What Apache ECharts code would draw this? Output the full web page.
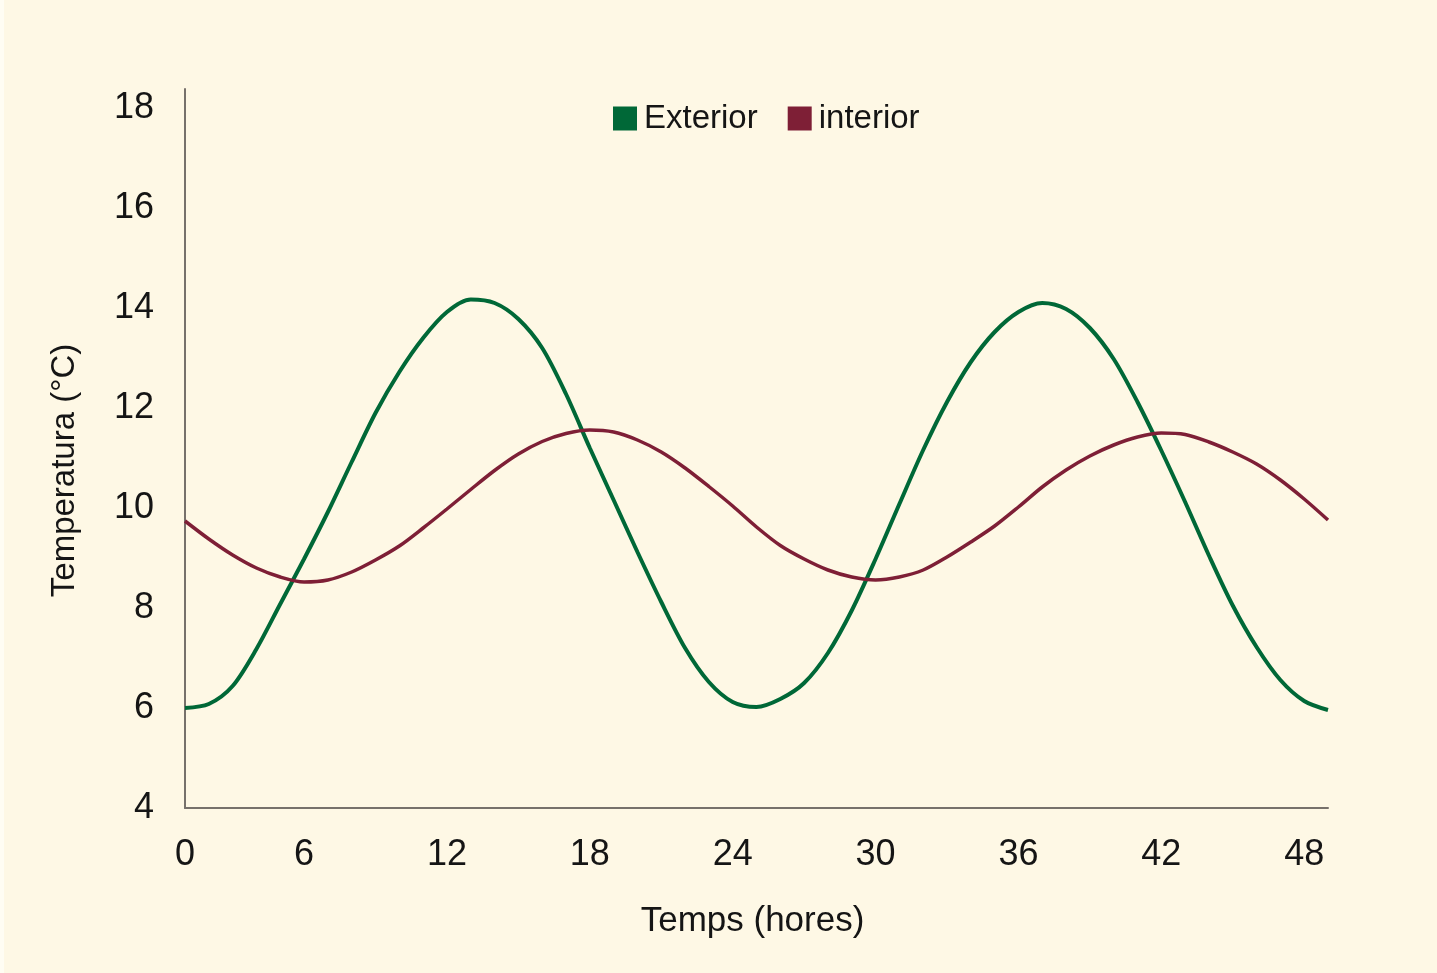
<!DOCTYPE html>
<html>
<head>
<meta charset="utf-8">
<title>Temperatura exterior i interior</title>
<script src="https://cdn.jsdelivr.net/npm/echarts@6/dist/echarts.min.js"></script>
<style>
    html, body { margin: 0; padding: 0; background: #fffdf3; }
    #chart { position: absolute; left: 4px; top: 0; width: 1433px; height: 973px; background: #fef8e5; }
</style>
</head>
<body>
<div id="chart"></div>
<script>
// hores en l'eix (cada hora) i graus llegits del gràfic original
var hours = [1, 2, 3, 4, 5, 6, 7, 8, 9, 10, 11, 12, 13, 14, 15, 16, 17, 18, 19, 20, 21, 22, 23, 24, 25,
    26, 27, 28, 29, 30, 31, 32, 33, 34, 35, 36, 37, 38, 39, 40, 41, 42, 43, 44, 45, 46, 47, 48, 49];
var exterior = [6.00, 6.08, 6.44, 7.18, 8.08, 8.98, 9.92, 10.92, 11.90, 12.72, 13.40, 13.92, 14.17,
    14.10, 13.78, 13.20, 12.28, 11.20, 10.16, 9.12, 8.12, 7.20, 6.52, 6.12, 6.02,
    6.18, 6.50, 7.10, 7.95, 8.98, 10.08, 11.16, 12.12, 12.92, 13.52, 13.92, 14.10,
    13.98, 13.60, 12.98, 12.12, 11.15, 10.12, 9.05, 8.05, 7.22, 6.56, 6.14, 5.96];
var interior = [9.74, 9.38, 9.06, 8.80, 8.62, 8.52, 8.56, 8.72, 8.96, 9.24, 9.60, 9.98, 10.37,
    10.75, 11.08, 11.33, 11.49, 11.56, 11.52, 11.36, 11.12, 10.80, 10.43, 10.04, 9.62,
    9.25, 8.98, 8.76, 8.62, 8.56, 8.62, 8.76, 9.02, 9.32, 9.64, 10.02, 10.42,
    10.76, 11.04, 11.26, 11.42, 11.50, 11.47, 11.32, 11.12, 10.88, 10.56, 10.18, 9.76];
var xTickValues = [1, 6, 12, 18, 24, 30, 36, 42, 48];
var xTickLabels = ['0', '6', '12', '18', '24', '30', '36', '42', '48'];

var FONT = 'Liberation Sans';
var TEXT = '#151515';
var AXIS = '#77716b';

function pairs(ys) {
    return hours.map(function (h, i) { return [h, ys[i]]; });
}

var chart = echarts.init(document.getElementById('chart'));
chart.setOption({
    backgroundColor: '#fef8e5',
    animation: false,
    textStyle: { fontFamily: FONT, color: TEXT },
    legend: {
        left: 604,
        top: 97,
        itemWidth: 24,
        itemHeight: 24,
        itemGap: 30,
        icon: 'rect',
        textStyle: { fontSize: 33, color: TEXT, fontFamily: FONT, padding: [0, 0, 0, 2] },
        data: ['Exterior', 'interior']
    },
    grid: { left: 181, right: 109, top: 89, bottom: 165 },
    xAxis: {
        type: 'value',
        min: 1,
        max: 49,
        name: 'Temps (hores)',
        nameLocation: 'middle',
        nameGap: 96,
        nameTextStyle: { fontSize: 35, color: TEXT, fontFamily: FONT, padding: [0, 8, 0, 0] },
        axisLine: { show: true, lineStyle: { color: AXIS, width: 2 } },
        axisTick: { show: false },
        splitLine: { show: false },
        axisLabel: {
            customValues: xTickValues,
            margin: 29,
            fontSize: 36,
            color: TEXT,
            fontFamily: FONT,
            formatter: function (v) {
                var i = xTickValues.indexOf(v);
                return i >= 0 ? xTickLabels[i] : '';
            }
        }
    },
    yAxis: {
        type: 'value',
        min: 4,
        max: 18.38,
        interval: 2,
        name: 'Temperatura (°C)',
        nameLocation: 'middle',
        nameGap: 104,
        nameTextStyle: { fontSize: 33, color: TEXT, fontFamily: FONT, padding: [0, 44, 0, 0] },
        axisLine: { show: true, lineStyle: { color: AXIS, width: 2 } },
        axisTick: { show: false },
        splitLine: { show: false },
        axisLabel: { showMaxLabel: false, margin: 31, fontSize: 36, color: TEXT, fontFamily: FONT }
    },
    series: [
        {
            name: 'Exterior',
            type: 'line',
            smooth: 0.3,
            showSymbol: false,
            color: '#006837',
            lineStyle: { width: 4, color: '#006837' },
            data: pairs(exterior)
        },
        {
            name: 'interior',
            type: 'line',
            smooth: 0.3,
            showSymbol: false,
            color: '#7e1f36',
            lineStyle: { width: 3.5, color: '#7e1f36' },
            data: pairs(interior)
        }
    ]
});
</script>
</body>
</html>
